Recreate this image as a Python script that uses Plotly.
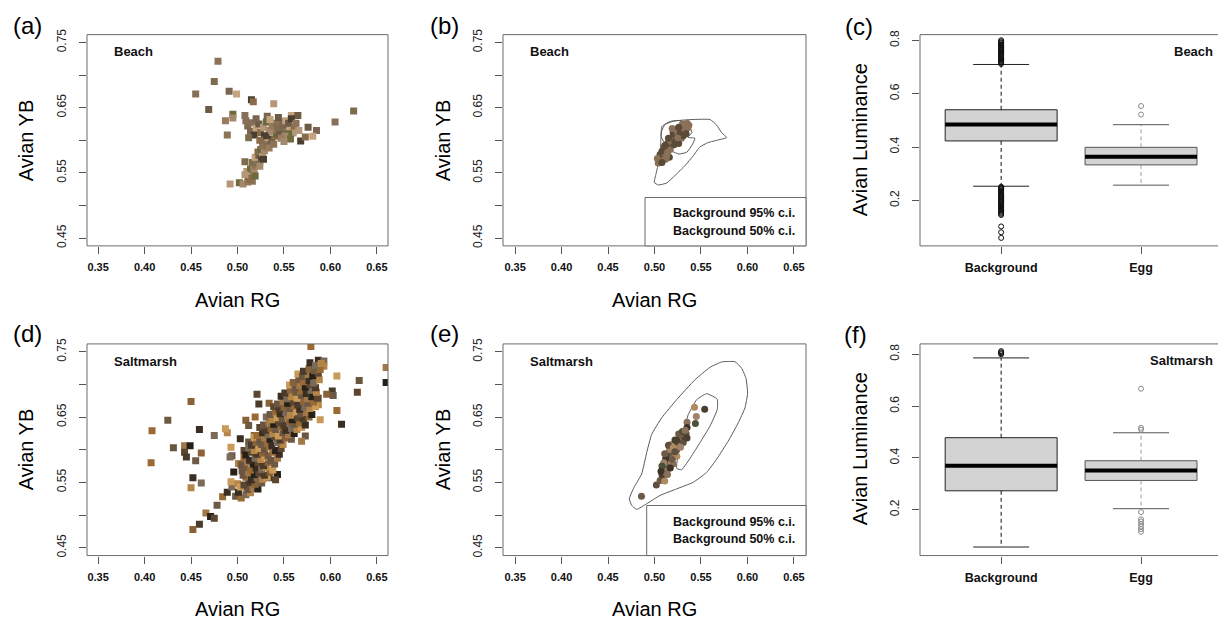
import plotly.graph_objects as go

W, H = 1218, 625

# ---------------- data ----------------
# Beach: background patches (Avian RG, Avian YB)
beach_background = [
    (0.479, 0.721), (0.475, 0.690), (0.455, 0.671), (0.491, 0.675), (0.499, 0.671),
    (0.469, 0.647), (0.515, 0.662), (0.517, 0.659), (0.539, 0.656), (0.495, 0.640),
    (0.495, 0.634), (0.487, 0.630), (0.489, 0.608), (0.625, 0.645), (0.605, 0.628),
    (0.585, 0.615), (0.581, 0.606), (0.576, 0.620), (0.568, 0.599), (0.573, 0.605),
    (0.492, 0.533), (0.502, 0.535), (0.506, 0.533), (0.511, 0.536), (0.516, 0.537),
    (0.508, 0.567), (0.508, 0.638), (0.532, 0.637), (0.558, 0.638), (0.565, 0.638),
    (0.512, 0.545), (0.515, 0.548), (0.510, 0.552), (0.514, 0.556), (0.518, 0.553),
    (0.517, 0.560), (0.520, 0.563), (0.516, 0.566), (0.521, 0.570), (0.524, 0.567),
    (0.519, 0.574), (0.523, 0.577), (0.526, 0.574), (0.522, 0.582), (0.527, 0.580),
    (0.525, 0.586), (0.529, 0.584), (0.531, 0.589), (0.527, 0.592), (0.532, 0.595),
    (0.530, 0.600), (0.535, 0.598), (0.533, 0.604), (0.537, 0.602), (0.536, 0.608),
    (0.540, 0.606), (0.538, 0.612), (0.542, 0.610), (0.545, 0.614), (0.541, 0.617),
    (0.547, 0.618), (0.550, 0.616), (0.553, 0.621), (0.548, 0.623), (0.556, 0.619),
    (0.545, 0.609), (0.528, 0.571), (0.513, 0.540), (0.508, 0.547), (0.519, 0.545),
    (0.524, 0.560), (0.534, 0.588), (0.539, 0.594),
    (0.511, 0.622), (0.516, 0.627), (0.514, 0.614), (0.520, 0.618), (0.523, 0.625),
    (0.518, 0.608), (0.525, 0.612), (0.528, 0.620), (0.531, 0.628), (0.534, 0.615),
    (0.537, 0.622), (0.540, 0.626), (0.543, 0.620), (0.546, 0.628), (0.549, 0.624),
    (0.552, 0.630), (0.555, 0.626), (0.558, 0.633), (0.561, 0.620), (0.560, 0.611),
    (0.555, 0.610), (0.551, 0.606), (0.547, 0.603), (0.563, 0.626), (0.512, 0.604),
    (0.509, 0.630), (0.520, 0.633), (0.535, 0.632), (0.544, 0.635), (0.529, 0.607),
    (0.524, 0.600), (0.566, 0.615), (0.557, 0.602), (0.550, 0.598),
]

# Saltmarsh: background patches
marsh_background = [
    (0.450, 0.674), (0.425, 0.645), (0.408, 0.629), (0.459, 0.631), (0.475, 0.622),
    (0.489, 0.626), (0.487, 0.632), (0.431, 0.603), (0.443, 0.606), (0.449, 0.606),
    (0.443, 0.596), (0.445, 0.589), (0.461, 0.595), (0.455, 0.583), (0.407, 0.580),
    (0.452, 0.557), (0.461, 0.549), (0.450, 0.542), (0.493, 0.604), (0.494, 0.591),
    (0.466, 0.503), (0.471, 0.498), (0.475, 0.495), (0.459, 0.486), (0.452, 0.478),
    (0.478, 0.515), (0.484, 0.528), (0.489, 0.535), (0.494, 0.543), (0.500, 0.548),
    (0.493, 0.551), (0.507, 0.543), (0.512, 0.551), (0.516, 0.541), (0.521, 0.685),
    (0.523, 0.670), (0.509, 0.645), (0.512, 0.637), (0.519, 0.650), (0.503, 0.617),
    (0.492, 0.589), (0.501, 0.579), (0.509, 0.584), (0.505, 0.568), (0.514, 0.566),
    (0.496, 0.566), (0.507, 0.599), (0.516, 0.604), (0.518, 0.622), (0.512, 0.612),
    (0.579, 0.758), (0.587, 0.737), (0.593, 0.736), (0.593, 0.728), (0.607, 0.713),
    (0.631, 0.706), (0.660, 0.726), (0.660, 0.703), (0.629, 0.688), (0.602, 0.690),
    (0.596, 0.685), (0.603, 0.683), (0.607, 0.660), (0.612, 0.639), (0.587, 0.679),
    (0.587, 0.669), (0.589, 0.646), (0.573, 0.621), (0.569, 0.613), (0.543, 0.562),
    (0.541, 0.554), (0.534, 0.557), (0.534, 0.671),
    (0.498, 0.529), (0.504, 0.526),
    (0.501, 0.535), (0.509, 0.531), (0.514, 0.534),
    (0.503, 0.543), (0.511, 0.539), (0.517, 0.542), (0.522, 0.540),
    (0.507, 0.546), (0.513, 0.550), (0.519, 0.547), (0.526, 0.549),
    (0.509, 0.558), (0.515, 0.554), (0.521, 0.557), (0.527, 0.555), (0.532, 0.558),
    (0.506, 0.561), (0.512, 0.565), (0.518, 0.562), (0.523, 0.564), (0.529, 0.561), (0.535, 0.565),
    (0.508, 0.573), (0.514, 0.569), (0.520, 0.572), (0.526, 0.570), (0.531, 0.573), (0.538, 0.569),
    (0.504, 0.577), (0.511, 0.581), (0.517, 0.578), (0.522, 0.580), (0.528, 0.576), (0.533, 0.581),
    (0.540, 0.578),
    (0.507, 0.588), (0.513, 0.584), (0.519, 0.587), (0.525, 0.585), (0.530, 0.589), (0.536, 0.584),
    (0.543, 0.587),
    (0.509, 0.592), (0.515, 0.596), (0.521, 0.593), (0.527, 0.595), (0.533, 0.591), (0.538, 0.596),
    (0.545, 0.593),
    (0.512, 0.603), (0.518, 0.599), (0.523, 0.602), (0.529, 0.600), (0.535, 0.604), (0.541, 0.599),
    (0.547, 0.602),
    (0.515, 0.607), (0.520, 0.611), (0.526, 0.608), (0.532, 0.610), (0.537, 0.606), (0.543, 0.611),
    (0.549, 0.608),
    (0.518, 0.619), (0.524, 0.615), (0.529, 0.618), (0.535, 0.616), (0.540, 0.620), (0.546, 0.615),
    (0.552, 0.618), (0.558, 0.616),
    (0.521, 0.622), (0.527, 0.626), (0.533, 0.623), (0.538, 0.625), (0.544, 0.621), (0.549, 0.626),
    (0.555, 0.623), (0.561, 0.625),
    (0.524, 0.634), (0.530, 0.630), (0.536, 0.633), (0.541, 0.631), (0.547, 0.635), (0.552, 0.630),
    (0.558, 0.633), (0.564, 0.631), (0.569, 0.634),
    (0.528, 0.638), (0.534, 0.642), (0.539, 0.639), (0.545, 0.641), (0.550, 0.637), (0.556, 0.642),
    (0.561, 0.639), (0.567, 0.641), (0.573, 0.638),
    (0.531, 0.650), (0.537, 0.646), (0.543, 0.649), (0.548, 0.647), (0.554, 0.651), (0.559, 0.646),
    (0.565, 0.649), (0.571, 0.647), (0.577, 0.650),
    (0.535, 0.654), (0.541, 0.658), (0.546, 0.655), (0.552, 0.657), (0.557, 0.653), (0.563, 0.658),
    (0.568, 0.655), (0.574, 0.657), (0.580, 0.654),
    (0.539, 0.666), (0.545, 0.662), (0.550, 0.665), (0.556, 0.663), (0.561, 0.667), (0.567, 0.662),
    (0.572, 0.665), (0.578, 0.663), (0.584, 0.666),
    (0.543, 0.670), (0.549, 0.674), (0.554, 0.671), (0.560, 0.673), (0.565, 0.669), (0.571, 0.674),
    (0.576, 0.671), (0.582, 0.673),
    (0.547, 0.682), (0.553, 0.678), (0.558, 0.681), (0.564, 0.679), (0.569, 0.683), (0.575, 0.678),
    (0.580, 0.681), (0.586, 0.679),
    (0.551, 0.687), (0.557, 0.691), (0.563, 0.688), (0.568, 0.690), (0.574, 0.686), (0.579, 0.691),
    (0.585, 0.688),
    (0.556, 0.699), (0.562, 0.695), (0.567, 0.698), (0.573, 0.696), (0.578, 0.700), (0.584, 0.695),
    (0.560, 0.703), (0.566, 0.707), (0.571, 0.704), (0.577, 0.706), (0.582, 0.702), (0.588, 0.707),
    (0.565, 0.716), (0.570, 0.712), (0.576, 0.715), (0.581, 0.713), (0.587, 0.717),
    (0.571, 0.720), (0.577, 0.724), (0.583, 0.721), (0.589, 0.723),
    (0.578, 0.733), (0.584, 0.729), (0.590, 0.732),
]

# Egg measurements
beach_eggs = [
    (0.504, 0.565), (0.507, 0.570), (0.509, 0.575), (0.506, 0.578), (0.511, 0.580),
    (0.513, 0.585), (0.510, 0.588), (0.515, 0.590), (0.517, 0.586), (0.514, 0.595),
    (0.519, 0.597), (0.521, 0.593), (0.518, 0.603), (0.522, 0.606), (0.524, 0.600),
    (0.520, 0.611), (0.525, 0.612), (0.527, 0.608), (0.523, 0.617), (0.528, 0.620),
    (0.530, 0.616), (0.532, 0.622), (0.535, 0.626), (0.533, 0.614), (0.529, 0.603),
    (0.516, 0.574), (0.512, 0.571), (0.526, 0.595), (0.519, 0.618), (0.531, 0.607),
    (0.536, 0.619), (0.508, 0.583), (0.503, 0.572), (0.508, 0.566), (0.514, 0.581),
    (0.511, 0.592), (0.517, 0.600), (0.522, 0.598), (0.525, 0.604), (0.528, 0.613),
    (0.532, 0.618), (0.534, 0.610), (0.530, 0.625), (0.526, 0.620), (0.537, 0.623),
    (0.515, 0.603), (0.513, 0.576),
]
marsh_eggs = [
    (0.486, 0.529), (0.502, 0.546), (0.543, 0.665), (0.554, 0.662), (0.545, 0.651),
    (0.544, 0.640), (0.535, 0.642), (0.535, 0.634),
    (0.506, 0.553), (0.509, 0.556), (0.511, 0.552), (0.508, 0.562), (0.512, 0.566),
    (0.510, 0.572), (0.514, 0.570), (0.513, 0.578), (0.516, 0.576), (0.515, 0.584),
    (0.518, 0.582), (0.517, 0.590), (0.520, 0.588), (0.519, 0.596), (0.522, 0.594),
    (0.521, 0.602), (0.524, 0.600), (0.523, 0.607), (0.526, 0.605), (0.525, 0.612),
    (0.528, 0.611), (0.527, 0.618), (0.530, 0.616), (0.532, 0.620), (0.529, 0.623),
    (0.534, 0.624), (0.518, 0.608), (0.522, 0.615), (0.516, 0.600), (0.513, 0.591),
    (0.520, 0.578), (0.512, 0.586), (0.526, 0.624), (0.531, 0.611), (0.524, 0.590),
    (0.535, 0.618), (0.510, 0.580), (0.508, 0.575), (0.514, 0.562), (0.517, 0.572),
    (0.511, 0.594), (0.515, 0.607), (0.520, 0.603), (0.524, 0.614), (0.528, 0.604),
    (0.530, 0.628), (0.533, 0.630), (0.507, 0.567), (0.519, 0.585), (0.522, 0.597),
]

# Background confidence contours (closed outlines)
beach_ci95 = [
    (0.5077, 0.6141), (0.5113, 0.6242), (0.5202, 0.6292), (0.5346, 0.6314), (0.5597, 0.6318),
    (0.5669, 0.6232), (0.5723, 0.6117), (0.5776, 0.6041), (0.5686, 0.6005), (0.5578, 0.5965),
    (0.5489, 0.5898), (0.5417, 0.5762), (0.5328, 0.5611), (0.5220, 0.5459), (0.5131, 0.5344),
    (0.5041, 0.5314), (0.4998, 0.5353), (0.5016, 0.5485), (0.5041, 0.5636), (0.5059, 0.5788),
    (0.5067, 0.5965), (0.5077, 0.6141),
]
beach_ci50 = [
    (0.5081, 0.6212), (0.5167, 0.6288), (0.5274, 0.6303), (0.5360, 0.6242), (0.5403, 0.6121),
    (0.5360, 0.6045), (0.5435, 0.6030), (0.5403, 0.5924), (0.5349, 0.5818), (0.5263, 0.5788),
    (0.5188, 0.5833), (0.5124, 0.5924), (0.5070, 0.6061), (0.5081, 0.6212),
]
marsh_ci95 = [
    (0.4729, 0.5250), (0.4780, 0.5426), (0.4862, 0.5629), (0.4916, 0.5957), (0.4970, 0.6236),
    (0.5077, 0.6488), (0.5239, 0.6767), (0.5435, 0.7071), (0.5597, 0.7262), (0.5723, 0.7344),
    (0.5866, 0.7348), (0.5938, 0.7247), (0.5984, 0.7095), (0.6002, 0.6867), (0.5973, 0.6640),
    (0.5901, 0.6412), (0.5794, 0.6134), (0.5669, 0.5857), (0.5561, 0.5653), (0.5417, 0.5502),
    (0.5239, 0.5401), (0.5059, 0.5300), (0.4916, 0.5174), (0.4809, 0.5087), (0.4755, 0.5148),
    (0.4729, 0.5250),
]
marsh_ci50 = [
    (0.5454, 0.6767), (0.5561, 0.6858), (0.5675, 0.6776), (0.5675, 0.6615), (0.5597, 0.6362),
    (0.5489, 0.6109), (0.5400, 0.5907), (0.5292, 0.5694), (0.5239, 0.5714), (0.5256, 0.5957),
    (0.5310, 0.6260), (0.5363, 0.6539), (0.5454, 0.6767),
]

# Avian luminance box statistics: [lower whisker, Q1, median, Q3, upper whisker]
lum_groups = ["Background", "Egg"]
beach_bg_lum = [0.253, 0.423, 0.485, 0.540, 0.710]
beach_egg_lum = [0.257, 0.333, 0.364, 0.399, 0.484]
marsh_bg_lum = [0.056, 0.273, 0.370, 0.478, 0.786]
marsh_egg_lum = [0.204, 0.313, 0.351, 0.389, 0.497]

beach_bg_outliers = [
    0.712, 0.716, 0.719, 0.723, 0.725, 0.729, 0.733, 0.736, 0.738, 0.742, 0.746, 0.749,
    0.751, 0.755, 0.758, 0.762, 0.765, 0.767, 0.771, 0.774, 0.777, 0.781, 0.783, 0.786,
    0.790, 0.793, 0.797, 0.801,
    0.251, 0.248, 0.244, 0.241, 0.237, 0.235, 0.231, 0.228, 0.224, 0.221, 0.217, 0.214,
    0.211, 0.207, 0.203, 0.199, 0.196, 0.193, 0.189, 0.186, 0.182, 0.178, 0.175, 0.172,
    0.168, 0.165, 0.161, 0.157, 0.153, 0.149, 0.145, 0.102, 0.080, 0.059,
]
beach_egg_outliers = [0.522, 0.554]
marsh_bg_outliers = [0.800, 0.804, 0.808, 0.812]
marsh_egg_outliers = [0.115, 0.125, 0.135, 0.145, 0.155, 0.163, 0.191, 0.509, 0.516, 0.667]

# ---------------- styling ----------------
FONT = "Liberation Sans, Arial, Helvetica, sans-serif"
FRAME = "#6a6a6a"
TICK = "#555555"

beach_cols = ["#8c7358", "#6b5a44", "#a38a6c", "#7a6650", "#b5977a", "#7d6c4e",
              "#4a3e32", "#9a7b5c", "#c4a47e", "#6e6a3e", "#87705a", "#8a6b4a"]
marsh_cols = ["#8a6238", "#b58448", "#5c4630", "#3a2e22", "#a0784a", "#6e5a44",
              "#c99a58", "#4a3a2a", "#7a6a58", "#262018", "#9a6a34", "#6b5540"]
beach_egg_cols = ["#8a7058", "#6e5a44", "#a08468", "#5a4a38", "#b89878", "#4a3c2e"]
marsh_egg_cols = ["#6e5a46", "#4a3e30", "#8a7058", "#5e5040", "#a0826a", "#3c3428",
                  "#b08a60", "#4b5238"]


def cycle(pal, n, step=5):
    return [pal[(i * step) % len(pal)] for i in range(n)]


def px_x(v):
    return v / W


def px_y(v):
    return 1 - v / H


fig = go.Figure()

# panel geometry in pixels: (left, right, top, bottom)
panels = {
    1: (87, 388, 29, 243),
    2: (503, 806, 29, 243),
    3: (920, 1218, 29, 243),
    4: (87, 388, 342.3, 556.7),
    5: (503, 806, 342.3, 556.7),
    6: (920, 1218, 342.3, 556.7),
}


def axis_ids(k):
    return ("x" if k == 1 else f"x{k}"), ("y" if k == 1 else f"y{k}")


# ---- scatter panels (a), (d) ----
for k, pts, pal in [(1, beach_background, beach_cols), (4, marsh_background, marsh_cols)]:
    xa, ya = axis_ids(k)
    fig.add_trace(go.Scatter(
        x=[p[0] for p in pts], y=[p[1] for p in pts], mode="markers",
        marker=dict(symbol="square", size=7, color=cycle(pal, len(pts)), line=dict(width=0)),
        xaxis=xa, yaxis=ya, hoverinfo="skip"))

# ---- contour panels (b), (e) ----
for k, c95, c50, eggs, pal in [(2, beach_ci95, beach_ci50, beach_eggs, beach_egg_cols),
                               (5, marsh_ci95, marsh_ci50, marsh_eggs, marsh_egg_cols)]:
    xa, ya = axis_ids(k)
    for cont in (c95, c50):
        fig.add_trace(go.Scatter(
            x=[p[0] for p in cont], y=[p[1] for p in cont], mode="lines",
            line=dict(color="#5a5a5a", width=1, shape="spline", smoothing=0.4),
            xaxis=xa, yaxis=ya, hoverinfo="skip"))
    fig.add_trace(go.Scatter(
        x=[p[0] for p in eggs], y=[p[1] for p in eggs], mode="markers",
        marker=dict(symbol="circle", size=7, color=cycle(pal, len(eggs), 3), line=dict(width=0)),
        xaxis=xa, yaxis=ya, hoverinfo="skip"))


# ---- box plot panels (c), (f) ----
def add_box(k, center, stats, outliers, edge, whisk, outc):
    xa, ya = axis_ids(k)
    lo, q1, med, q3, hi = stats
    half, cap = 0.4, 0.2
    fig.add_trace(go.Scatter(
        x=[center - half, center + half, center + half, center - half, center - half],
        y=[q1, q1, q3, q3, q1], mode="lines", fill="toself", fillcolor="#d3d3d3",
        line=dict(color=edge, width=1), xaxis=xa, yaxis=ya, hoverinfo="skip"))
    fig.add_trace(go.Scatter(
        x=[center, center, None, center, center], y=[q3, hi, None, q1, lo], mode="lines",
        line=dict(color=whisk, width=1, dash="4px,3px"), xaxis=xa, yaxis=ya, hoverinfo="skip"))
    fig.add_trace(go.Scatter(
        x=[center - cap, center + cap, None, center - cap, center + cap], y=[hi, hi, None, lo, lo],
        mode="lines", line=dict(color=edge, width=1), xaxis=xa, yaxis=ya, hoverinfo="skip"))
    fig.add_trace(go.Scatter(
        x=[center - half, center + half], y=[med, med], mode="lines",
        line=dict(color="black", width=4), xaxis=xa, yaxis=ya, hoverinfo="skip"))
    fig.add_trace(go.Scatter(
        x=[center] * len(outliers), y=outliers, mode="markers",
        marker=dict(symbol="circle-open", size=5, color=outc, line=dict(width=1)),
        xaxis=xa, yaxis=ya, hoverinfo="skip"))


add_box(3, 1, beach_bg_lum, beach_bg_outliers, "#222222", "#111111", "#111111")
add_box(3, 2, beach_egg_lum, beach_egg_outliers, "#555555", "#9a9a9a", "#8a8a8a")
add_box(6, 1, marsh_bg_lum, marsh_bg_outliers, "#222222", "#111111", "#111111")
add_box(6, 2, marsh_egg_lum, marsh_egg_outliers, "#555555", "#9a9a9a", "#8a8a8a")

# ---- axes ----
rg_ticks = [0.35, 0.40, 0.45, 0.50, 0.55, 0.60, 0.65]
yb_ticks = [0.45, 0.50, 0.55, 0.60, 0.65, 0.70, 0.75]
yb_text = ["0.45", "", "0.55", "", "0.65", "", "0.75"]
lum_ticks = [0.2, 0.4, 0.6, 0.8]

common = dict(showgrid=False, zeroline=False, showline=False, ticks="outside", ticklen=7,
              tickwidth=1, tickcolor=TICK, fixedrange=True)

layout_axes = {}
for k, (l, r, t, b) in panels.items():
    xa, ya = axis_ids(k)
    xkey = "xaxis" if k == 1 else f"xaxis{k}"
    ykey = "yaxis" if k == 1 else f"yaxis{k}"
    xd = [px_x(l), px_x(r)]
    yd = [px_y(b), px_y(t)]
    if k in (1, 4):
        xr, yr = [0.338, 0.662], [0.438, 0.762]
    elif k in (2, 5):
        xr, yr = [0.337, 0.663], [0.438, 0.762]
    elif k == 3:
        xr, yr = [0.42, 2.55], [0.029, 0.822]
    else:
        xr, yr = [0.42, 2.55], [0.023, 0.840]
    if k in (3, 6):
        xax = dict(common, domain=xd, range=xr, anchor=ya, tickvals=[1, 2], ticktext=lum_groups,
                   tickfont=dict(family=FONT, size=12.5, color="#111", weight="bold"),
                   ticklabelstandoff=3)
        yax = dict(common, domain=yd, range=yr, anchor=xa, tickvals=lum_ticks,
                   ticktext=[str(v) for v in lum_ticks], tickangle=-90,
                   tickfont=dict(family=FONT, size=12, color="#222"), ticklabelstandoff=8)
    else:
        xax = dict(common, domain=xd, range=xr, anchor=ya, tickvals=rg_ticks,
                   ticktext=[f"{v:.2f}" for v in rg_ticks],
                   tickfont=dict(family=FONT, size=11, color="#111", weight="bold"),
                   ticklabelstandoff=4)
        yax = dict(common, domain=yd, range=yr, anchor=xa, tickvals=yb_ticks, ticktext=yb_text,
                   tickangle=-90, tickfont=dict(family=FONT, size=12, color="#222"),
                   ticklabelstandoff=8)
    layout_axes[xkey] = xax
    layout_axes[ykey] = yax

# ---- frames ----
shapes = []
for k, (l, r, t, b) in panels.items():
    rr = r if k not in (3, 6) else 1222
    shapes.append(dict(type="rect", xref="paper", yref="paper", x0=px_x(l), x1=px_x(rr),
                       y0=px_y(b), y1=px_y(t), line=dict(color=FRAME, width=1),
                       fillcolor="rgba(0,0,0,0)", layer="above"))
# legend boxes of the contour panels
for (l, r, t, b) in [(645, 806, 194, 243), (646.7, 806, 506, 556.7)]:
    shapes.append(dict(type="rect", xref="paper", yref="paper", x0=px_x(l), x1=px_x(r),
                       y0=px_y(b), y1=px_y(t), line=dict(color=FRAME, width=1),
                       fillcolor="white", layer="above"))

# ---- text ----
anns = []


def text(s, x, y, size, xanchor="center", angle=0, color="#111", weight="normal"):
    anns.append(dict(text=s, x=px_x(x), y=px_y(y), xref="paper", yref="paper",
                     xanchor=xanchor, yanchor="middle", showarrow=False, textangle=angle,
                     font=dict(family=FONT, size=size, color=color, weight=weight)))


for lab, x, y in [("(a)", 27, 20), ("(b)", 444, 20), ("(c)", 859, 21),
                  ("(d)", 27, 332), ("(e)", 444, 332), ("(f)", 855, 333)]:
    text(lab, x, y, 24, color="black")

for x, y in [(26, 136), (443, 136), (26, 449), (443, 449)]:
    text("Avian YB", x, y, 20, angle=-90, color="black")
for x, y in [(860, 136), (860, 449)]:
    text("Avian Luminance", x, y, 20, angle=-90, color="black")
for x, y in [(237, 298), (654, 298), (237, 611), (654, 611)]:
    text("Avian RG", x, y, 20, color="black")

text("Beach", 112, 46, 13, xanchor="left", weight="bold")
text("Beach", 528, 46, 13, xanchor="left", weight="bold")
text("Beach", 1215, 46, 13, xanchor="right", weight="bold")
text("Saltmarsh", 112, 360, 13, xanchor="left", weight="bold")
text("Saltmarsh", 528, 360, 13, xanchor="left", weight="bold")
text("Saltmarsh", 1215, 359, 13, xanchor="right", weight="bold")

for y0 in (210, 522.5):
    text("Background 95% c.i.", 797, y0, 12.5, xanchor="right", weight="bold")
    text("Background 50% c.i.", 797, y0 + 17.7, 12.5, xanchor="right", weight="bold")

fig.update_layout(
    width=W, height=H, margin=dict(l=0, r=0, t=0, b=0, pad=0),
    paper_bgcolor="white", plot_bgcolor="white", showlegend=False,
    font=dict(family=FONT, color="#111"),
    shapes=shapes, annotations=anns, **layout_axes)

fig.write_html("out.html")
